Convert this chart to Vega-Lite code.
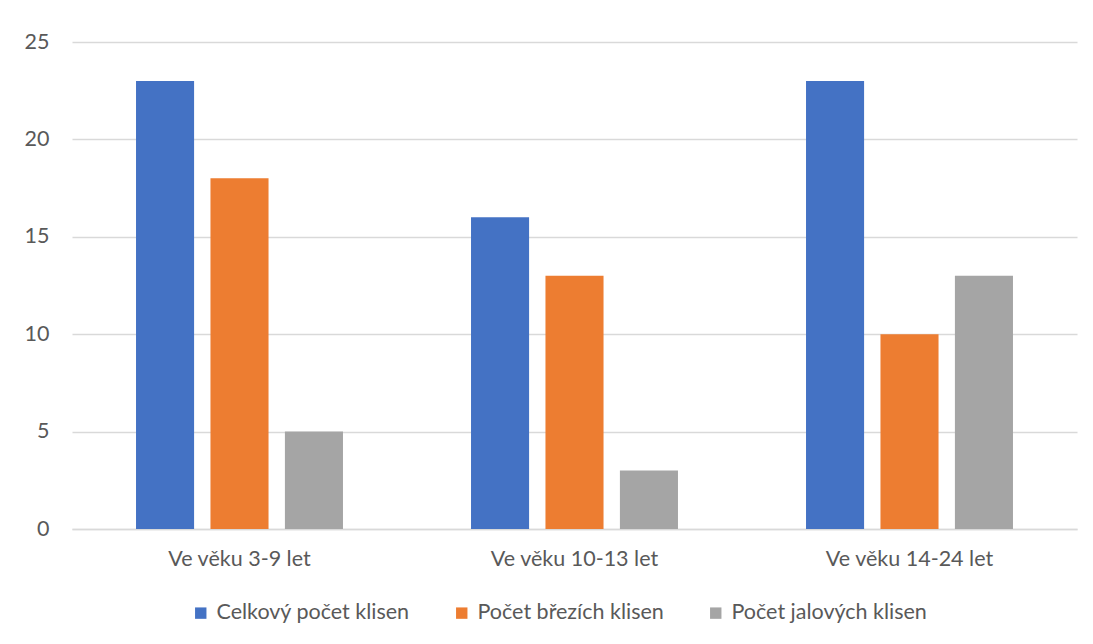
{
  "$schema": "https://vega.github.io/schema/vega-lite/v6.json",
  "width": 1005,
  "height": 487,
  "autosize": {"type": "none"},
  "padding": {"left": 72, "top": 42, "right": 16, "bottom": 115},
  "background": "white",
  "data": {
    "values": [
      {"vek": "Ve věku 3-9 let", "serie": "Celkový počet klisen", "pocet": 23},
      {"vek": "Ve věku 3-9 let", "serie": "Počet březích klisen", "pocet": 18},
      {"vek": "Ve věku 3-9 let", "serie": "Počet jalových klisen", "pocet": 5},
      {"vek": "Ve věku 10-13 let", "serie": "Celkový počet klisen", "pocet": 16},
      {"vek": "Ve věku 10-13 let", "serie": "Počet březích klisen", "pocet": 13},
      {"vek": "Ve věku 10-13 let", "serie": "Počet jalových klisen", "pocet": 3},
      {"vek": "Ve věku 14-24 let", "serie": "Celkový počet klisen", "pocet": 23},
      {"vek": "Ve věku 14-24 let", "serie": "Počet březích klisen", "pocet": 10},
      {"vek": "Ve věku 14-24 let", "serie": "Počet jalových klisen", "pocet": 13}
    ]
  },
  "mark": {"type": "bar"},
  "encoding": {
    "x": {
      "field": "vek",
      "type": "nominal",
      "sort": ["Ve věku 3-9 let", "Ve věku 10-13 let", "Ve věku 14-24 let"],
      "scale": {"paddingInner": 0, "paddingOuter": 0},
      "axis": {
        "title": null,
        "labelAngle": 0,
        "ticks": false,
        "domainColor": "#d9d9d9",
        "domainWidth": 1.5,
        "labelPadding": 19,
        "labelFontSize": 21.5,
        "labelFont": "Lato",
        "labelColor": "#595959"
      }
    },
    "xOffset": {
      "field": "serie",
      "type": "nominal",
      "sort": ["Celkový počet klisen", "Počet březích klisen", "Počet jalových klisen"],
      "scale": {"paddingInner": 0.22, "paddingOuter": 0.86}
    },
    "y": {
      "field": "pocet",
      "type": "quantitative",
      "scale": {"domain": [0, 25]},
      "axis": {
        "title": null,
        "values": [0, 5, 10, 15, 20, 25],
        "domain": false,
        "ticks": false,
        "gridColor": "#d9d9d9",
        "gridWidth": 1.5,
        "labelPadding": 23,
        "labelFontSize": 21.5,
        "labelFont": "Lato",
        "labelColor": "#595959"
      }
    },
    "color": {
      "field": "serie",
      "type": "nominal",
      "scale": {
        "domain": ["Celkový počet klisen", "Počet březích klisen", "Počet jalových klisen"],
        "range": ["#4472C4", "#ED7D31", "#A5A5A5"]
      },
      "legend": {
        "title": null,
        "orient": "none",
        "legendX": 118,
        "legendY": 560,
        "direction": "horizontal",
        "symbolType": "square",
        "symbolSize": 130,
        "symbolStrokeWidth": 0,
        "labelFontSize": 21.5,
        "labelFont": "Lato",
        "labelColor": "#595959",
        "labelLimit": 400,
        "columnPadding": 41,
        "labelOffset": 5
      }
    }
  },
  "config": {
    "view": {"stroke": null}
  }
}
